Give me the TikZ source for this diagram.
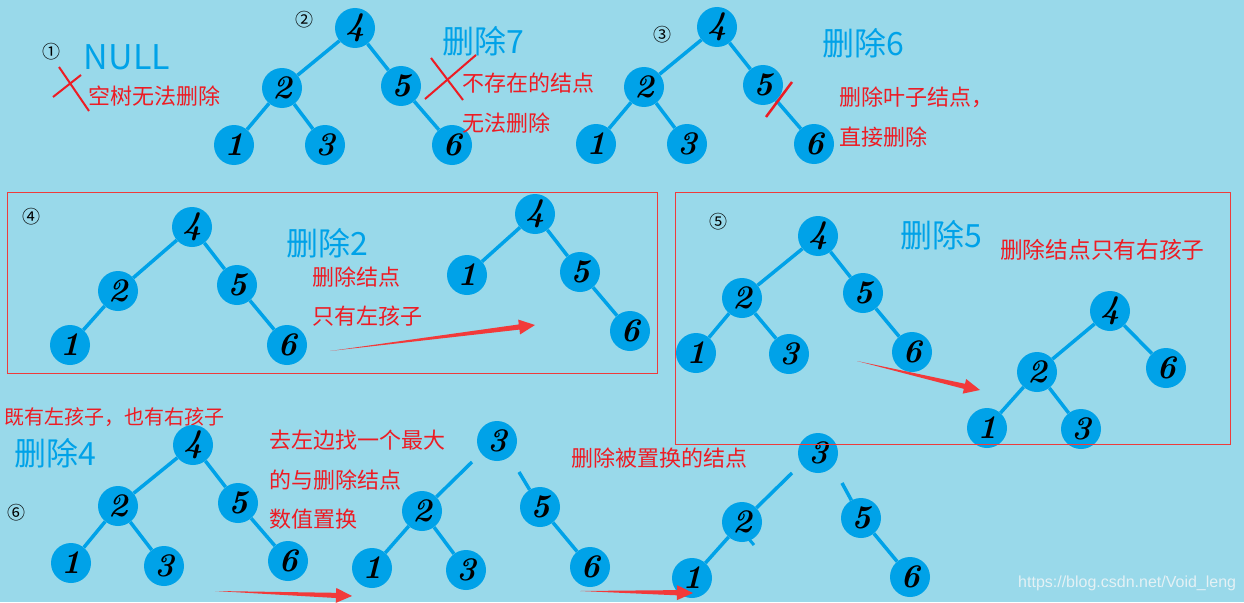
\documentclass[tikz,border=0pt]{standalone}
\usepackage{fontspec}
\newfontfamily\cjk{Noto Sans CJK SC}
\newfontfamily\wmfont{Liberation Sans}
\usetikzlibrary{calc}
\definecolor{bg}{HTML}{99D9EA}
\definecolor{nblue}{HTML}{00A2E8}
\definecolor{tred}{HTML}{ED1C24}
\definecolor{ared}{HTML}{F23A3A}
\definecolor{boxred}{HTML}{EE3B3B}
\definecolor{wm}{HTML}{E4F1F5}
\tikzset{
 tn/.style={circle,fill=nblue,minimum size=40pt,inner sep=0pt,font=\fontsize{33}{33}\selectfont\bfseries\itshape},
 te/.style={draw=nblue,line width=3.5pt},
 redtxt/.style={text=tred,font=\cjk\fontsize{22}{22}\selectfont,anchor=west,inner sep=0pt},
 bluetitle/.style={text=nblue,font=\cjk\fontsize{32}{32}\selectfont,inner sep=0pt},
 circnum/.style={font=\cjk\fontsize{18}{18}\selectfont,inner sep=0pt},
 redmark/.style={draw=tred,line width=2pt},
 framebox/.style={draw=boxred,line width=0.9pt},
}
\newcommand\redarrow[2]{%
 \fill[ared] let \p1=($(#2)-(#1)$), \n1={atan2(\y1,\x1)}, \n2={veclen(\x1,\y1)} in
 (#1) -- ($(#1)+(\n1:{\n2*1pt-16pt})+(\n1+90:2.6pt)$)
 -- ($(#1)+(\n1:{\n2*1pt-16pt})+(\n1+90:7.5pt)$)
 -- (#2)
 -- ($(#1)+(\n1:{\n2*1pt-16pt})+(\n1-90:7.5pt)$)
 -- ($(#1)+(\n1:{\n2*1pt-16pt})+(\n1-90:2.6pt)$) -- cycle;}
\begin{document}
\begin{tikzpicture}[x=1pt,y=-1pt]
\useasboundingbox (0,0) rectangle (1244,602);
\fill[bg] (0,0) rectangle (1244,602);

% ---------- (1) ----------
\node[circnum] (n1) at (51,52) {①};
\node[bluetitle,font=\cjk\fontsize{34}{34}\selectfont] (null) at (127,57) {NULL};
\coordinate (xa1) at (59,67); \coordinate (xa2) at (89,111);
\coordinate (xb1) at (53,97); \coordinate (xb2) at (81,75);
\draw[redmark] (xa1) -- (xa2);
\draw[redmark] (xb1) -- (xb2);
\node[redtxt] (t1) at (88,96) {空树无法删除};

% ---------- (2) ----------
\node[circnum] (n2) at (304,20) {②};
\node[tn] (a4) at (355,28) {4};
\node[tn] (a2) at (282,88) {2};
\node[tn] (a5) at (401,86) {5};
\node[tn] (a1) at (234,145) {1};
\node[tn] (a3) at (325,145) {3};
\node[tn] (a6) at (452,145) {6};
\draw[te] (a4) -- (a2); \draw[te] (a4) -- (a5);
\draw[te] (a2) -- (a1); \draw[te] (a2) -- (a3);
\draw[te] (a5) -- (a6);
\node[bluetitle] (h7) at (483,41) {删除7};
\coordinate (ya1) at (431,58); \coordinate (ya2) at (463,100);
\coordinate (yb1) at (425,99); \coordinate (yb2) at (476,55);
\draw[redmark] (ya1) -- (ya2);
\draw[redmark] (yb1) -- (yb2);
\node[redtxt] (t2a) at (462,83) {不存在的结点};
\node[redtxt] (t2b) at (462,123) {无法删除};

% ---------- (3) ----------
\node[circnum] (n3) at (662,35) {③};
\node[tn] (b4) at (717,27) {4};
\node[tn] (b2) at (644,87) {2};
\node[tn] (b5) at (763,85) {5};
\node[tn] (b1) at (596,144) {1};
\node[tn] (b3) at (687,144) {3};
\node[tn] (b6) at (814,144) {6};
\draw[te] (b4) -- (b2); \draw[te] (b4) -- (b5);
\draw[te] (b2) -- (b1); \draw[te] (b2) -- (b3);
\draw[te] (b5) -- (b6);
\coordinate (s1) at (766,117); \coordinate (s2) at (792,82);
\draw[redmark,line width=2.5pt] (s1) -- (s2);
\node[bluetitle] (h6) at (863,43) {删除6};
\node[redtxt] (t3a) at (839,97) {删除叶子结点，};
\node[redtxt] (t3b) at (839,137) {直接删除};

% ---------- (4) ----------
\node[circnum] (n4) at (32,217) {④};
\node[tn] (c4) at (192,227) {4};
\node[tn] (c2) at (118,291) {2};
\node[tn] (c5) at (237,285) {5};
\node[tn] (c1) at (70,345) {1};
\node[tn] (c6) at (287,345) {6};
\draw[te] (c4) -- (c2); \draw[te] (c4) -- (c5);
\draw[te] (c2) -- (c1); \draw[te] (c5) -- (c6);
\node[bluetitle] (h2) at (327,243) {删除2};
\node[redtxt] (t4a) at (312,277) {删除结点};
\node[redtxt] (t4b) at (312,316) {只有左孩子};
\node[tn] (d4) at (535,214) {4};
\node[tn] (d1) at (467,275) {1};
\node[tn] (d5) at (580,272) {5};
\node[tn] (d6) at (630,331) {6};
\draw[te] (d4) -- (d1); \draw[te] (d4) -- (d5);
\draw[te] (d5) -- (d6);
\coordinate (r4s) at (330,351); \coordinate (r4e) at (535,325);
\redarrow{r4s}{r4e}

% ---------- (5) ----------
\node[circnum] (n5) at (718,222) {⑤};
\node[tn] (e4) at (818,236) {4};
\node[tn] (e2) at (742,298) {2};
\node[tn] (e5) at (863,293) {5};
\node[tn] (e1) at (696,353) {1};
\node[tn] (e3) at (789,354) {3};
\node[tn] (e6) at (912,352) {6};
\draw[te] (e4) -- (e2); \draw[te] (e4) -- (e5);
\draw[te] (e2) -- (e1); \draw[te] (e2) -- (e3);
\draw[te] (e5) -- (e6);
\node[bluetitle] (h5) at (941,235) {删除5};
\node[redtxt,font=\cjk\fontsize{22.7}{22.7}\selectfont] (t5) at (1000,250) {删除结点只有右孩子};
\node[tn] (f4) at (1110,311) {4};
\node[tn] (f2) at (1037,372) {2};
\node[tn] (f6) at (1166,368) {6};
\node[tn] (f1) at (987,428) {1};
\node[tn] (f3) at (1081,429) {3};
\draw[te] (f4) -- (f2); \draw[te] (f4) -- (f6);
\draw[te] (f2) -- (f1); \draw[te] (f2) -- (f3);
\coordinate (r5s) at (857,361); \coordinate (r5e) at (980,390);
\redarrow{r5s}{r5e}

% ---------- (6) ----------
\node[redtxt,font=\cjk\fontsize{20}{20}\selectfont] (t6a) at (4,417) {既有左孩子，也有右孩子};
\node[bluetitle] (h4) at (55,453) {删除4};
\node[circnum] (n6) at (17,513) {⑥};
\node[tn] (g4) at (193,445) {4};
\node[tn] (g2) at (118,506) {2};
\node[tn] (g5) at (238,503) {5};
\node[tn] (g1) at (71,563) {1};
\node[tn] (g3) at (164,566) {3};
\node[tn] (g6) at (288,561) {6};
\draw[te] (g4) -- (g2); \draw[te] (g4) -- (g5);
\draw[te] (g2) -- (g1); \draw[te] (g2) -- (g3);
\draw[te] (g5) -- (g6);
\node[redtxt] (t6b) at (269,440) {去左边找一个最大};
\node[redtxt] (t6c) at (269,480) {的与删除结点};
\node[redtxt] (t6d) at (269,519) {数值置换};
\node[tn] (h3) at (497,441) {3};
\node[tn] (h2n) at (422,511) {2};
\node[tn] (h5n) at (540,507) {5};
\node[tn] (h1) at (372,568) {1};
\node[tn] (h3b) at (466,570) {3};
\node[tn] (h6n) at (590,567) {6};
\coordinate (hu2) at (472,462); \coordinate (hu5) at (519,472);
\draw[te] (h2n) -- (hu2); \draw[te] (h5n) -- (hu5);
\draw[te] (h2n) -- (h1); \draw[te] (h2n) -- (h3b);
\draw[te] (h5n) -- (h6n);
\node[redtxt] (t6e) at (571,458) {删除被置换的结点};
\node[tn] (i3) at (818,453) {3};
\node[tn] (i2) at (742,522) {2};
\node[tn] (i5) at (861,518) {5};
\node[tn] (i1) at (692,578) {1};
\node[tn] (i6) at (910,577) {6};
\coordinate (iu2) at (792,473); \coordinate (iu5) at (842,483);
\coordinate (ist1) at (748,538); \coordinate (ist2) at (754,545);
\draw[te] (i2) -- (iu2); \draw[te] (i5) -- (iu5);
\draw[te] (i2) -- (i1); \draw[te] (i5) -- (i6);
\draw[te,line width=3pt] (ist1) -- (ist2);
\coordinate (r6s) at (215,591); \coordinate (r6e) at (352,596);
\redarrow{r6s}{r6e}
\coordinate (r7s) at (580,591); \coordinate (r7e) at (693,593);
\redarrow{r7s}{r7e}

% ---------- frames ----------
\coordinate (fa1) at (7,192); \coordinate (fa2) at (657,373);
\draw[framebox] (fa1) rectangle (fa2);
\coordinate (fb1) at (675,192); \coordinate (fb2) at (1230,444);
\draw[framebox] (fb1) rectangle (fb2);

% watermark
\node[anchor=west,inner sep=0pt,text=wm,font=\wmfont\fontsize{16}{16}\selectfont] (wmk) at (1018,583) {https://blog.csdn.net/Void\_leng};
\end{tikzpicture}
\end{document}
